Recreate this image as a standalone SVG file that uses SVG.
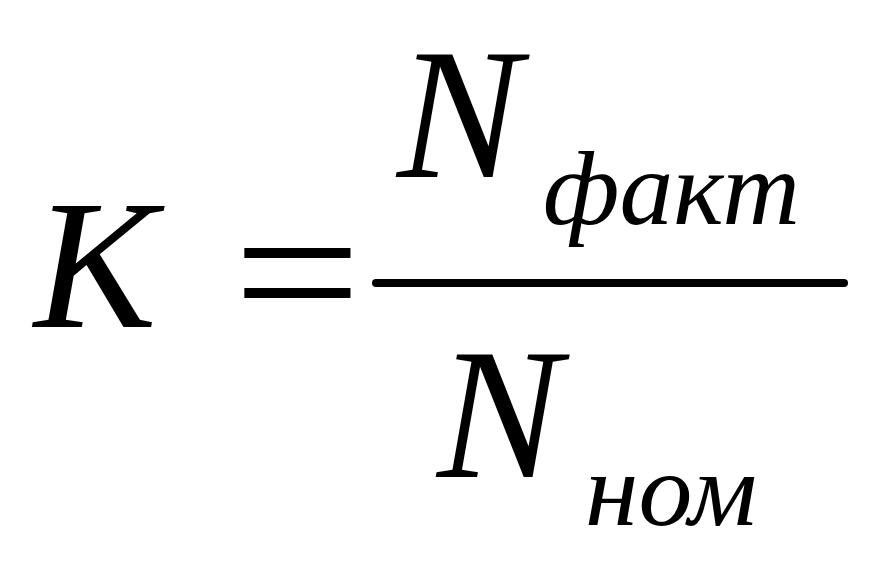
<svg xmlns="http://www.w3.org/2000/svg" width="882" height="567" viewBox="0 0 882 567">
<style>
.t{font-family:"Liberation Serif","Times New Roman",serif;font-style:italic;fill:#000}
.n{font-family:"Liberation Serif","Times New Roman",serif;fill:#000}
</style>
<rect width="882" height="567" fill="#fff"/>
<g id="formula">
<text class="t" x="34" y="327" font-size="184">K</text>
<text class="n" transform="translate(233,339) scale(1.14,1)" font-size="200">=</text>
<line x1="376" y1="283" x2="844" y2="283" stroke="#000" stroke-width="8" stroke-linecap="round"/>
<text class="t" x="397" y="177" font-size="186">N</text>
<text class="t" x="543" y="224" font-size="106" textLength="257" lengthAdjust="spacingAndGlyphs">факт</text>
<text class="t" x="437" y="477" font-size="186">N</text>
<text class="t" x="585" y="525" font-size="104" textLength="172" lengthAdjust="spacingAndGlyphs">ном</text>
</g>
</svg>
